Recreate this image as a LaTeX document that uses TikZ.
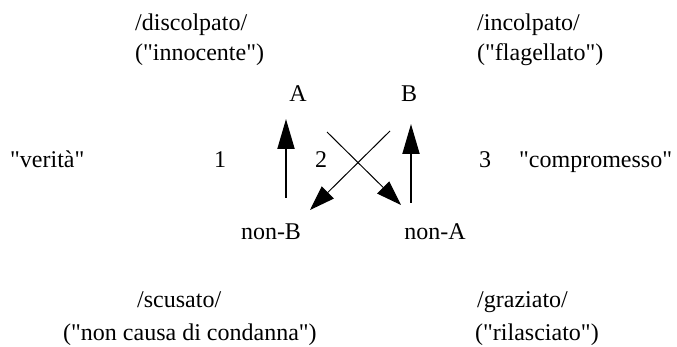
\documentclass[tikz,border=0pt]{standalone}
\usepackage{fontspec}
\setmainfont{Liberation Serif}[Ligatures=TeXOff]
\usetikzlibrary{arrows.meta}

\begin{document}
\begin{tikzpicture}[
    x=1pt, y=-1pt,
    every node/.style={font=\fontsize{24}{29}\selectfont, inner sep=0pt},
    lbl/.style={anchor=base west},
    mid/.style={anchor=base},
    pole/.style={-{Triangle[length=30pt, width=17pt]}, line width=2pt},
    cross/.style={-{Triangle[length=25pt, width=17pt]}, line width=1pt}
]
\useasboundingbox (0,0) rectangle (677,347);
% upper positions
\node[lbl] (disc) at (135,31) {/discolpato/};
\node[lbl] (innoc) at ([yshift=-30pt]disc.base west) {("innocente")};
\node[lbl] (incolp) at (477,31) {/incolpato/};
\node[lbl] (flag) at ([yshift=-30pt]incolp.base west) {("flagellato")};
\node[mid] (A) at (298,102) {A};
\node[mid] (B) at (409,102) {B};
% middle row
\node[lbl] (verita) at (10,168) {"verità"};
\node[mid] (one) at (220,168) {1};
\node[mid] (two) at (321,168) {2};
\node[mid] (three) at (485,168) {3};
\node[lbl] (compr) at (519,168) {"compromesso"};
\node[mid] (nonB) at (271,240) {non-B};
\node[mid] (nonA) at (435,240) {non-A};
% lower positions
\node[lbl] (scus) at (137,307) {/scusato/};
\node[lbl] (cond) at (63,340) {("non causa di condanna")};
\node[lbl] (graz) at (477,307) {/graziato/};
\node[lbl] (rilas) at (475,340) {("rilasciato")};
% arrow ends
\coordinate (upL0) at (286,198);
\coordinate (upL1) at (286,119);
\coordinate (upR0) at (411,203);
\coordinate (upR1) at (411,124);
\coordinate (crA0) at (327,132);
\coordinate (crA1) at (401,205);
\coordinate (crB0) at (390,131);
\coordinate (crB1) at (310,210);
\draw[pole] (upL0) -- (upL1);
\draw[pole] (upR0) -- (upR1);
\draw[cross] (crA0) -- (crA1);
\draw[cross] (crB0) -- (crB1);
\end{tikzpicture}
\end{document}
